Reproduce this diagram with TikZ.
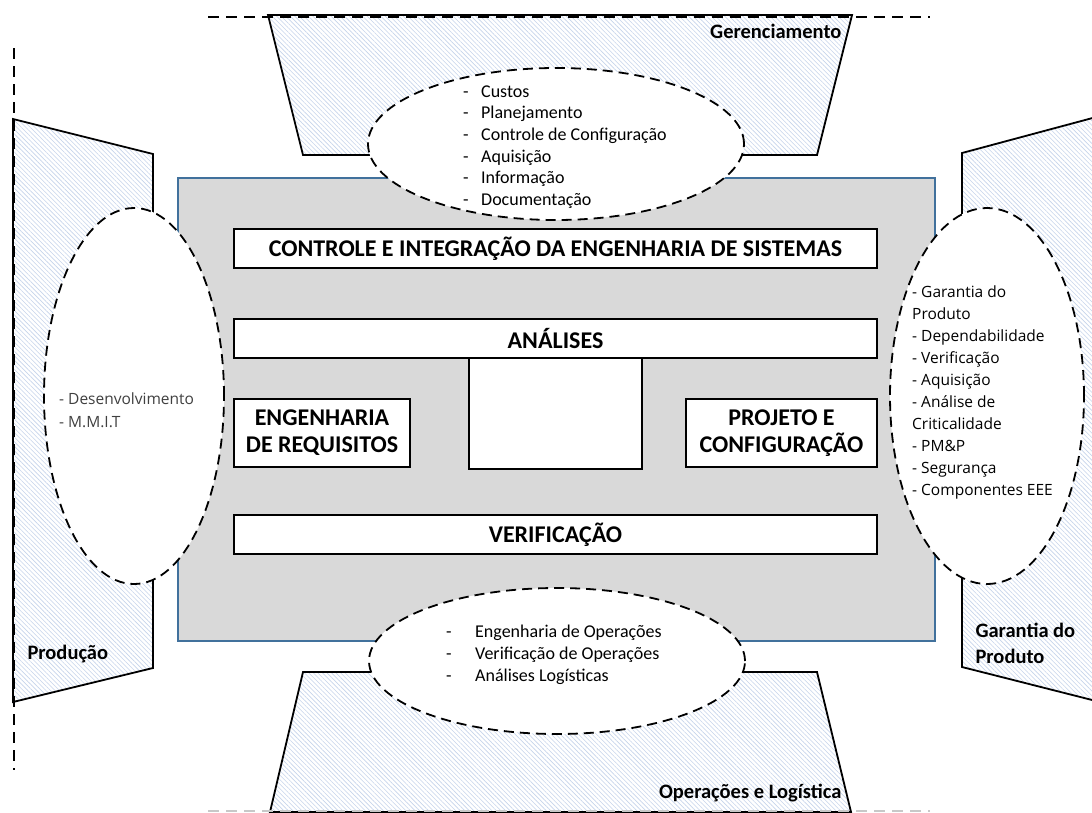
\documentclass[tikz,border=0pt]{standalone}
\usepackage{fontspec}
\setmainfont{Carlito}
\newfontfamily\listfont{Open Sans}
\usetikzlibrary{shapes.geometric,patterns.meta}

\definecolor{panelgray}{RGB}{217,217,217}
\definecolor{panelblue}{RGB}{65,113,156}
\definecolor{hatchblue}{RGB}{198,212,235}
\definecolor{lightdash}{RGB}{200,200,200}
\definecolor{listgray}{RGB}{64,64,64}

\newcommand{\tabdash}[1]{\makebox[#1][l]{-}}

\tikzset{
  sector area/.style={draw=black, line width=1.8pt, line join=miter,
    preaction={fill=white},
    pattern={Lines[angle=-45,distance=3.2pt,line width=0.6pt]}, pattern color=hatchblue},
  guide/.style={line width=2.2pt, dash pattern=on 11pt off 7pt},
  scope oval/.style={ellipse, draw=black, fill=white, line width=1.8pt,
    dash pattern=on 10pt off 6pt, inner sep=0pt},
  block/.style={draw=black, fill=white, line width=1.6pt, align=center,
    font=\bfseries\fontsize{24}{27}\selectfont, inner sep=0pt},
  sector label/.style={font=\bfseries\fontsize{20.5}{26}\selectfont, align=left},
  item list/.style={align=left, inner sep=0pt}
}

\begin{document}
\begin{tikzpicture}[x=1pt, y=-1pt]
        \useasboundingbox (0,0) rectangle (1092,812);
        \clip (0,0) rectangle (1092,812);

        % Outer sectors (hatched trapezoids)
        \draw[sector area] (268,15) -- (852,15) -- (817,155) -- (303,155) -- cycle;
        \draw[sector area] (303,672) -- (817,672) -- (851,812) -- (270,812) -- cycle;
        \draw[sector area] (13,119) -- (153,154) -- (153,668) -- (13,702) -- cycle;
        \draw[sector area] (962,153) -- (1100,116) -- (1100,702) -- (962,667) -- cycle;

        % Boundary lines
        \draw[guide] (208,17) -- (930,17);
        \draw[guide] (14,48) -- (14,770);
        \draw[guide, draw=lightdash] (208,811) -- (930,811);

        % Central panel
        \draw[draw=panelblue, fill=panelgray, line width=1.6pt] (178,178) rectangle (935,641);

        % Dashed scopes
        \node[scope oval, minimum width=376pt, minimum height=152pt] (ger) at (556,144) {};
        \node[scope oval, minimum width=376pt, minimum height=146pt] (ops) at (557,661) {};
        \node[scope oval, minimum width=180pt, minimum height=376pt] (prod) at (134,396) {};
        \node[scope oval, minimum width=194pt, minimum height=376pt] (gar) at (987,396) {};

        % Engineering blocks
        \node[block, minimum width=643pt, minimum height=39pt] (ctrl) at (555.5,248.5)
            {CONTROLE E INTEGRAÇÃO DA ENGENHARIA DE SISTEMAS};
        \node[block, minimum width=643pt, minimum height=39pt] (anal) at (555.5,338.5) {ANÁLISES};
        \node[block, minimum width=173pt, minimum height=111pt] (core) at (555.5,413.5) {};
        \node[block, minimum width=176pt, minimum height=68pt] (req) at (322,433)
            {ENGENHARIA\\DE REQUISITOS};
        \node[block, minimum width=191pt, minimum height=68pt] (proj) at (781.5,433)
            {PROJETO E\\CONFIGURAÇÃO};
        \node[block, minimum width=643pt, minimum height=39pt] (verif) at (555.5,534.5) {VERIFICAÇÃO};

        % Sector names
        \node[sector label, anchor=east] (gerlbl) at (845,31) {Gerenciamento};
        \node[sector label, anchor=west] (prodlbl) at (24,654) {Produção};
        \node[sector label, anchor=west] (garlbl) at (972,643) {Garantia do\\Produto};
        \node[sector label, anchor=east] (opslbl) at (845,793) {Operações e Logística};

        % Item lists
        \node[item list, anchor=west, font=\fontsize{18}{21.7}\selectfont] (gerlist) at (463,147)
            {\tabdash{18pt}Custos\\ \tabdash{18pt}Planejamento\\ \tabdash{18pt}Controle de Configuração\\
             \tabdash{18pt}Aquisição\\ \tabdash{18pt}Informação\\ \tabdash{18pt}Documentação};
        \node[item list, anchor=west, font=\fontsize{18}{22}\selectfont] (opslist) at (446,655)
            {\tabdash{29pt}Engenharia de Operações\\ \tabdash{29pt}Verificação de Operações\\
             \tabdash{29pt}Análises Logísticas};
        \node[item list, anchor=west, text=listgray, font=\listfont\fontsize{15.5}{23}\selectfont] (prodlist) at (59,410)
            {- Desenvolvimento\\ - M.M.I.T};
        \node[item list, anchor=west, font=\listfont\fontsize{15.5}{22}\selectfont] (garlist) at (912,392)
            {- Garantia do\\ Produto\\ - Dependabilidade\\ - Verificação\\ - Aquisição\\ - Análise de\\
             Criticalidade\\ - PM\&P\\ - Segurança\\ - Componentes EEE};

    \end{tikzpicture}
\end{document}
